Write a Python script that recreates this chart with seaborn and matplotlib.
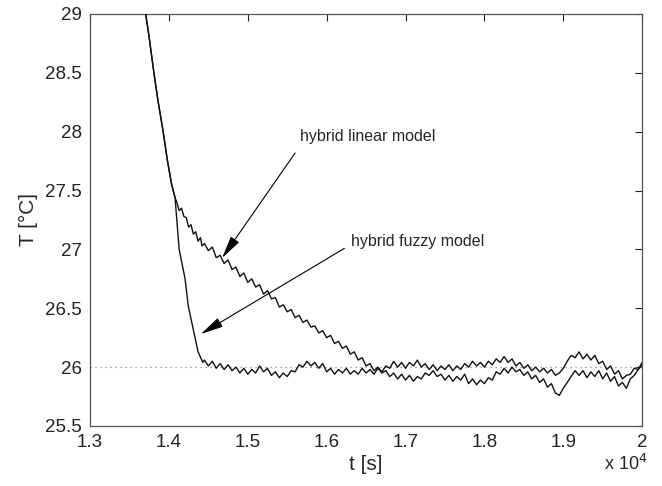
import numpy as np
import pandas as pd
import matplotlib
matplotlib.use("Agg")
import matplotlib.pyplot as plt
import seaborn as sns
from matplotlib.ticker import FuncFormatter

# ---------------- data ----------------
# shared steep cooling part (t in s, T in degC)
shared_t = [13680, 13706, 13750, 13810, 13860, 13927, 13980, 14035, 14078]
shared_T = [29.10, 29.00, 28.80, 28.50, 28.27, 28.00, 27.76, 27.55, 27.44]

# hybrid fuzzy model, fast part after the split
fuzzy_early_t = [14130, 14205, 14245, 14290, 14331, 14370, 14410, 14430]
fuzzy_early_T = [27.00, 26.75, 26.52, 26.38, 26.25, 26.13, 26.07, 26.04]

# hybrid linear model, slow part after the split
linear_early_t = [14100, 14130, 14160, 14190, 14220, 14250, 14280, 14310, 14340, 14370, 14400, 14420]
linear_early_T = [27.40, 27.33, 27.35, 27.28, 27.27, 27.19, 27.21, 27.13, 27.15, 27.07, 27.10, 27.03]

# noisy part, sampled every 50 s from t = 14450 s to 20000 s
grid_start = 14450
grid_step = 50
fuzzy_T = [
    26.06, 26.01, 26.05, 25.99, 26.03, 25.98, 26.02, 25.97, 26.00, 25.95,
    25.99, 25.94, 25.98, 25.95, 26.01, 25.96, 25.99, 25.93, 25.96, 25.91,
    25.95, 25.92, 25.97, 25.96, 26.02, 26.00, 26.05, 26.01, 26.04, 25.99,
    26.03, 25.96, 25.99, 25.94, 25.98, 25.95, 25.99, 25.94, 25.97, 25.94,
    25.99, 25.95, 25.98, 25.94, 25.99, 25.95, 25.97, 25.92, 25.95, 25.90,
    25.94, 25.89, 25.93, 25.88, 25.92, 25.90, 25.95, 25.93, 25.97, 25.92,
    25.94, 25.89, 25.93, 25.88, 25.92, 25.89, 25.94, 25.86, 25.90, 25.85,
    25.89, 25.86, 25.91, 25.89, 25.96, 25.94, 25.99, 25.95, 26.00, 25.96,
    25.98, 25.93, 25.96, 25.90, 25.93, 25.87, 25.90, 25.83, 25.86, 25.78,
    25.76, 25.82, 25.87, 25.92, 25.97, 25.93, 25.97, 25.91, 25.96, 25.92,
    25.97, 25.90, 25.95, 25.88, 25.92, 25.84, 25.87, 25.82, 25.90, 25.93,
    25.98, 26.02,
]
linear_T = [
    27.05, 26.99, 27.02, 26.93, 26.95, 26.88, 26.91, 26.83, 26.85, 26.77,
    26.80, 26.72, 26.75, 26.68, 26.70, 26.62, 26.65, 26.58, 26.59, 26.51,
    26.53, 26.47, 26.49, 26.42, 26.44, 26.38, 26.40, 26.34, 26.35, 26.29,
    26.31, 26.25, 26.27, 26.20, 26.22, 26.16, 26.18, 26.11, 26.13, 26.06,
    26.08, 26.01, 26.03, 25.97, 26.00, 25.96, 26.01, 25.99, 26.05, 26.00,
    26.04, 25.99, 26.04, 26.01, 26.06, 26.00, 26.03, 25.98, 26.02, 25.97,
    26.01, 25.98, 26.02, 25.97, 26.01, 25.98, 26.03, 26.00, 26.05, 26.01,
    26.04, 26.00, 26.05, 26.02, 26.07, 26.04, 26.09, 26.04, 26.07, 26.01,
    26.04, 25.99, 26.02, 25.97, 26.00, 25.96, 25.99, 25.95, 25.98, 25.93,
    25.95, 25.99, 26.05, 26.10, 26.08, 26.13, 26.07, 26.11, 26.06, 26.10,
    26.03, 26.05, 25.98, 26.01, 25.94, 25.97, 25.90, 25.93, 25.94, 25.99,
    25.98, 26.04,
]

setpoint = 26.0
x_ticks = [13000, 14000, 15000, 16000, 17000, 18000, 19000, 20000]
y_ticks = [25.5, 26, 26.5, 27, 27.5, 28, 28.5, 29]

label_linear = "hybrid linear model"
label_fuzzy = "hybrid fuzzy model"

# ---------------- assemble series ----------------
grid_t = grid_start + grid_step * np.arange(len(fuzzy_T))
fuzzy_df = pd.DataFrame({
    "t": list(shared_t) + fuzzy_early_t + list(grid_t),
    "T": list(shared_T) + fuzzy_early_T + list(fuzzy_T),
})
linear_df = pd.DataFrame({
    "t": list(shared_t) + linear_early_t + list(grid_t),
    "T": list(shared_T) + linear_early_T + list(linear_T),
})

# ---------------- plotting ----------------
sns.set_style("white")
plt.rcParams["font.family"] = ["Liberation Sans", "DejaVu Sans"]

fig = plt.figure(figsize=(6.62, 4.86), dpi=100)
ax = fig.add_axes([0.136, 0.1235, 0.834, 0.8477])

ax.plot([x_ticks[0], x_ticks[-1]], [setpoint, setpoint], linestyle=(0, (1, 3)),
        color="#888888", linewidth=0.9, zorder=1)

sns.lineplot(data=fuzzy_df, x="t", y="T", sort=False, estimator=None,
             color="#111111", linewidth=1.0, ax=ax, zorder=3)
sns.lineplot(data=linear_df, x="t", y="T", sort=False, estimator=None,
             color="#111111", linewidth=1.0, ax=ax, zorder=3)

ax.set_xlim(x_ticks[0], x_ticks[-1])
ax.set_ylim(y_ticks[0], y_ticks[-1])
ax.set_xticks(x_ticks)
ax.set_yticks(y_ticks)
ax.xaxis.set_major_formatter(FuncFormatter(lambda v, p: f"{v / 1e4:g}"))
ax.yaxis.set_major_formatter(FuncFormatter(lambda v, p: f"{v:g}"))
ax.tick_params(direction="in", length=5, width=0.8, top=True, right=True,
               labelsize=13.5, colors="#222222", pad=6)
for s in ax.spines.values():
    s.set_color("#555555")
    s.set_linewidth(0.9)

ax.set_xlabel("t [s]", fontsize=15, labelpad=3)
ax.set_ylabel("T [°C]", fontsize=15, labelpad=5)
fig.text(0.912, 0.045, r"x 10$^{4}$", fontsize=13, ha="left", va="center")

arrow_kw = dict(arrowstyle="-|>,head_length=1.0,head_width=0.22", color="black",
                linewidth=0.8, shrinkA=0, shrinkB=0, mutation_scale=14)
ax.annotate("", xy=(14674, 26.927), xytext=(15600, 27.819), arrowprops=arrow_kw)
ax.annotate("", xy=(14404, 26.281), xytext=(16225, 27.009), arrowprops=arrow_kw)
ax.text(15663, 27.963, label_linear, fontsize=11.5, ha="left", va="center")
ax.text(16310, 27.065, label_fuzzy, fontsize=11.5, ha="left", va="center")

fig.savefig("out.png", dpi=100)
